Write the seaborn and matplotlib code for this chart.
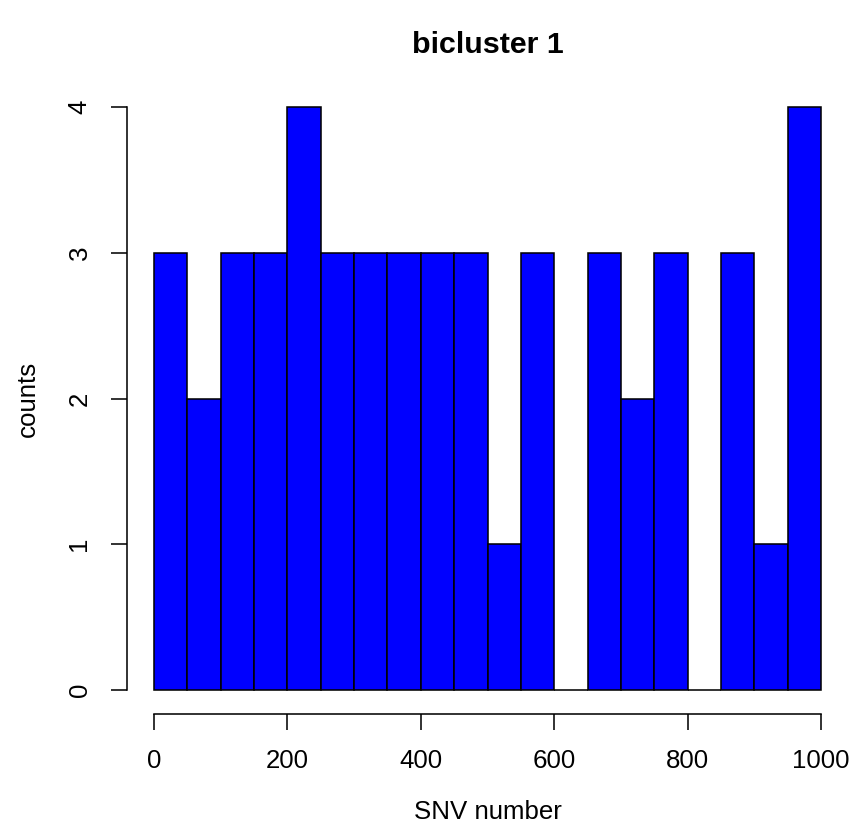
import numpy as np
import pandas as pd
import matplotlib
matplotlib.use("Agg")
import matplotlib.pyplot as plt
import seaborn as sns

# Data
bin_edges = list(range(0, 1001, 50))
counts = [3, 2, 3, 3, 4, 3, 3, 3, 3, 3, 1, 3, 0, 3, 2, 3, 0, 3, 1, 4]
x_ticks = [0, 200, 400, 600, 800, 1000]
y_ticks = [0, 1, 2, 3, 4]
title = "bicluster 1"
xlabel = "SNV number"
ylabel = "counts"

sns.set_style("white")
plt.rcParams['font.family'] = ['Liberation Sans', 'DejaVu Sans']
plt.rcParams['text.color'] = 'black'

W, H, DPI = 853, 836, 150
fig = plt.figure(figsize=(W / DPI, H / DPI), dpi=DPI)
left, right, top, bottom = 154, 821, 107, 690
ax = fig.add_axes([left / W, 1 - bottom / H, (right - left) / W, (bottom - top) / H])

centers = [(bin_edges[i] + bin_edges[i + 1]) / 2 for i in range(len(counts))]
df = pd.DataFrame({"x": centers, "w": counts})
sns.histplot(data=df, x="x", weights="w", bins=bin_edges, ax=ax,
             color="#0000FF", edgecolor="black", linewidth=0.75, alpha=1.0)
for p in ax.patches:
    p.set_clip_on(False)

ax.set_xlim(0, 1000)
ax.set_ylim(0, 4)
ax.set_xlabel("")
ax.set_ylabel("")
ax.spines['top'].set_visible(False)
ax.spines['right'].set_visible(False)
ax.spines['left'].set_position(('outward', 13))
ax.spines['bottom'].set_position(('outward', 11.5))
ax.spines['left'].set_bounds(0, 4)
ax.spines['bottom'].set_bounds(0, 1000)
for s in ['left', 'bottom']:
    ax.spines[s].set_linewidth(0.75)
    ax.spines[s].set_color('black')

ax.set_xticks(x_ticks)
ax.set_yticks(y_ticks)
ax.set_yticklabels([str(v) for v in y_ticks], rotation=90, va='center')
ax.tick_params(axis='both', direction='out', length=7.5, width=0.75,
               color='black', labelsize=12.4, labelcolor='black')
ax.tick_params(axis='x', pad=9.2, bottom=True)
ax.tick_params(axis='y', pad=9.5, left=True)
ax.grid(False)

fig.text(0.5 * (left + right) / W, 1 - 45 / H, title, ha='center', va='center',
         fontsize=14.6, fontweight='bold', color='black')
fig.text(0.5 * (left + right) / W, 1 - 812 / H, xlabel, ha='center', va='center',
         fontsize=12.4, color='black')
fig.text(28 / W, 1 - 0.5 * (top + bottom) / H, ylabel, ha='center', va='center',
         fontsize=12.4, rotation=90, color='black')

fig.savefig("out.png", dpi=DPI)
